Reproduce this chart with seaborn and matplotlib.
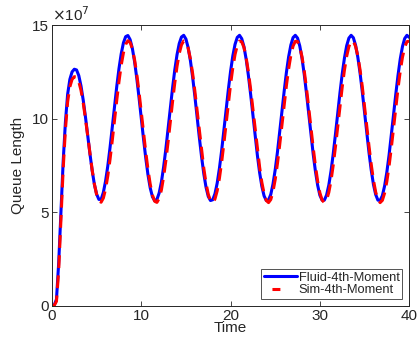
import numpy as np
import pandas as pd
import matplotlib
matplotlib.use("Agg")
import matplotlib.pyplot as plt
import seaborn as sns

# Time grid (step 0.25 from 0 to 40)
time = [i * 0.25 for i in range(161)]

# Queue length, units of 1e7
fluid = [
    0.00, 0.05, 0.35, 2.30, 5.00, 7.70, 9.80, 11.30, 12.10, 12.50, 12.64, 12.60,
    12.30, 11.74, 10.98, 10.08, 9.09, 8.12, 7.23, 6.48, 5.97, 5.69,
    5.69, 6.06, 6.67, 7.48, 8.46, 9.53, 10.64, 11.71, 12.67, 13.46,
    14.05, 14.38, 14.44, 14.22, 13.75, 13.04, 12.14, 11.11, 10.02, 8.92,
    7.90, 7.00, 6.30, 5.83, 5.62, 5.69, 6.03, 6.61, 7.42, 8.38,
    9.45, 10.55, 11.63, 12.60, 13.41, 14.01, 14.36, 14.45, 14.25, 13.79,
    13.10, 12.22, 11.20, 10.10, 9.00, 7.97, 7.06, 6.34, 5.85, 5.63,
    5.67, 5.99, 6.56, 7.35, 8.30, 9.36, 10.47, 11.55, 12.53, 13.35,
    13.97, 14.34, 14.45, 14.27, 13.84, 13.16, 12.29, 11.28, 10.19, 9.09,
    8.05, 7.13, 6.39, 5.88, 5.63, 5.66, 5.95, 6.51, 7.28, 8.22,
    9.28, 10.38, 11.46, 12.46, 13.30, 13.93, 14.33, 14.45, 14.30, 13.88,
    13.22, 12.36, 11.36, 10.28, 9.17, 8.12, 7.20, 6.45, 5.91, 5.65,
    5.65, 5.92, 6.45, 7.21, 8.14, 9.19, 10.30, 11.38, 12.38, 13.23,
    13.89, 14.30, 14.45, 14.32, 13.92, 13.28, 12.44, 11.44, 10.36, 9.26,
    8.20, 7.26, 6.49, 5.95, 5.65, 5.64, 5.89, 6.41, 7.14, 8.06,
    9.11, 10.21, 11.30, 12.31, 13.18, 13.85, 14.28, 14.45, 14.34,
]

sim = [
    0.00, 0.03, 0.25, 1.90, 4.60, 7.30, 9.40, 10.90, 11.70, 12.10, 12.24, 12.22,
    11.98, 11.51, 10.83, 9.99, 9.07, 8.13, 7.25, 6.50, 5.94, 5.61,
    5.54, 5.76, 6.24, 6.95, 7.83, 8.84, 9.92, 10.98, 11.98, 12.85,
    13.52, 13.97, 14.16, 14.07, 13.73, 13.14, 12.35, 11.40, 10.35, 9.27,
    8.22, 7.28, 6.50, 5.92, 5.59, 5.53, 5.74, 6.19, 6.89, 7.76,
    8.76, 9.83, 10.90, 11.91, 12.79, 13.48, 13.94, 14.15, 14.09, 13.76,
    13.19, 12.41, 11.47, 10.43, 9.35, 8.30, 7.35, 6.55, 5.96, 5.61,
    5.52, 5.71, 6.15, 6.82, 7.68, 8.68, 9.75, 10.82, 11.84, 12.72,
    13.43, 13.91, 14.14, 14.10, 13.80, 13.24, 12.48, 11.55, 10.51, 9.43,
    8.38, 7.42, 6.60, 6.00, 5.63, 5.52, 5.68, 6.11, 6.76, 7.61,
    8.60, 9.66, 10.74, 11.76, 12.66, 13.38, 13.88, 14.13, 14.12, 13.83,
    13.30, 12.55, 11.63, 10.60, 9.52, 8.46, 7.49, 6.66, 6.04, 5.65,
    5.52, 5.66, 6.06, 6.70, 7.54, 8.52, 9.58, 10.66, 11.68, 12.59,
    13.33, 13.85, 14.13, 14.13, 13.86, 13.35, 12.61, 11.71, 10.68, 9.60,
    8.54, 7.56, 6.72, 6.08, 5.67, 5.52, 5.64, 6.03, 6.65, 7.47,
    8.44, 9.49, 10.57, 11.61, 12.53, 13.28, 13.82, 14.11, 14.14,
]

x_ticks = [0, 10, 20, 30, 40]
y_ticks = [0, 5, 10, 15]
series_names = ["Fluid-4th-Moment", "Sim-4th-Moment"]

sns.set_style("white")
plt.rcParams["font.family"] = ["Liberation Sans", "DejaVu Sans"]
plt.rcParams["xtick.direction"] = "in"
plt.rcParams["ytick.direction"] = "in"

fig = plt.figure(figsize=(4.17, 3.44), dpi=100)
ax = fig.add_axes([0.1247, 0.1105, 0.8565, 0.8168])

df = pd.DataFrame({"Time": time, "fluid": fluid, "sim": sim})

sns.lineplot(data=df, x="Time", y="fluid", ax=ax, color="#0000ff",
             linewidth=2.2, label=series_names[0])
sns.lineplot(data=df, x="Time", y="sim", ax=ax, color="#ff0000",
             linewidth=2.2, label=series_names[1])
ax.lines[1].set_dashes([4.2, 2.4])

ax.set_xlim(0, 40)
ax.set_ylim(0, 15)
ax.set_xticks(x_ticks)
ax.set_yticks(y_ticks)
ax.set_xticklabels([str(v) for v in x_ticks], fontsize=11, color="#262626")
ax.set_yticklabels([str(v) for v in y_ticks], fontsize=11, color="#262626")
ax.tick_params(axis="both", which="both", direction="in", length=3.5,
               width=0.6, color="#262626", top=True, right=True,
               bottom=True, left=True, pad=2)
for s in ax.spines.values():
    s.set_visible(True)
    s.set_color("#262626")
    s.set_linewidth(0.7)

ax.set_xlabel("Time", fontsize=11, color="#262626", labelpad=-1)
ax.set_ylabel("Queue Length", fontsize=11, color="#262626", labelpad=5)
ax.text(0.0, 1.003, r"$\times$10$^{7}$", transform=ax.transAxes,
        fontsize=11, color="#262626", ha="left", va="bottom")

leg = ax.legend(loc="lower right", fontsize=9.3, frameon=True,
                fancybox=False, borderpad=0.2, labelspacing=0.05,
                handlelength=2.6, handletextpad=0.1, borderaxespad=0.55)
leg.get_frame().set_edgecolor("#262626")
leg.get_frame().set_linewidth(0.7)
# single short red dash near the left of its handle, as in the reference legend
leg.get_lines()[1].set_linestyle((10.0, (2.6, 10.0)))

fig.savefig("out.png", dpi=100)
